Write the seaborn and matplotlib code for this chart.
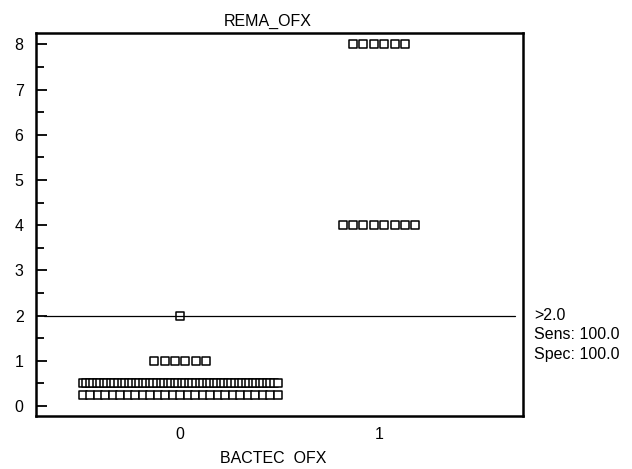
import seaborn as sns
import matplotlib.pyplot as plt
import pandas as pd
import numpy as np

# Данные: группы BACTEC OFX и значения REMA_OFX
groups = [0, 0, 0, 0, 1, 1]
values = [0.25, 0.5, 1.0, 2.0, 4.0, 8.0]
counts = [27, 56, 6, 1, 8, 6]
cutoff = 2.0
cutoff_text = ['>2.0', 'Sens: 100.0', 'Spec: 100.0']

# Раскладка точек по горизонтали внутри каждой строки
rows = []
for g, v, n in zip(groups, values, counts):
    step = 0.052 if n < 2 else min(0.052, 0.98 / (n - 1))
    for i in range(n):
        rows.append({'group': g, 'value': v, 'pos': g + (i - (n - 1) / 2) * step})
df = pd.DataFrame(rows)

sns.set_style('white')
plt.rcParams['font.family'] = ['Liberation Sans', 'DejaVu Sans']
plt.rcParams['text.color'] = 'black'
plt.rcParams['xtick.color'] = 'black'
plt.rcParams['ytick.color'] = 'black'

fig = plt.figure(figsize=(6.32, 4.69), dpi=100)
ax = fig.add_axes([0.057, 0.1136, 0.7706, 0.8154])

sns.scatterplot(data=df, x='pos', y='value', marker='s', s=26,
                facecolor='white', edgecolor='black', linewidth=1.1,
                legend=False, ax=ax)

ax.axhline(cutoff, xmin=0.016, xmax=0.984, color='black', linewidth=0.9)

ax.set_xlim(-0.724, 1.724)
ax.set_ylim(-0.215, 8.243)
ax.set_xticks([0, 1])
ax.set_xticklabels(['0', '1'])
ax.set_yticks(range(0, 9))
ax.set_yticks(np.arange(0.5, 8, 1), minor=True)
ax.tick_params(axis='y', which='major', direction='in', length=8, width=1.3,
               labelsize=11.5, pad=9, left=True)
ax.tick_params(axis='y', which='minor', direction='in', length=6, width=1.3, left=True)
ax.tick_params(axis='x', length=0, labelsize=11.5, pad=8)

for s in ax.spines.values():
    s.set_visible(True)
    s.set_color('black')
    s.set_linewidth(1.8)

ax.set_xlabel('')
ax.set_ylabel('')

fig.text(268 / 632, 1 - 21 / 469, 'REMA_OFX', ha='center', va='center', fontsize=11.5)
fig.text(273 / 632, 1 - 458 / 469, 'BACTEC  OFX', ha='center', va='center', fontsize=11.5)

for k, t in enumerate(cutoff_text):
    fig.text(534 / 632, 1 - (315 + k * 19.5) / 469, t, ha='left', va='center', fontsize=11.5)

fig.savefig('out.png', dpi=100)
